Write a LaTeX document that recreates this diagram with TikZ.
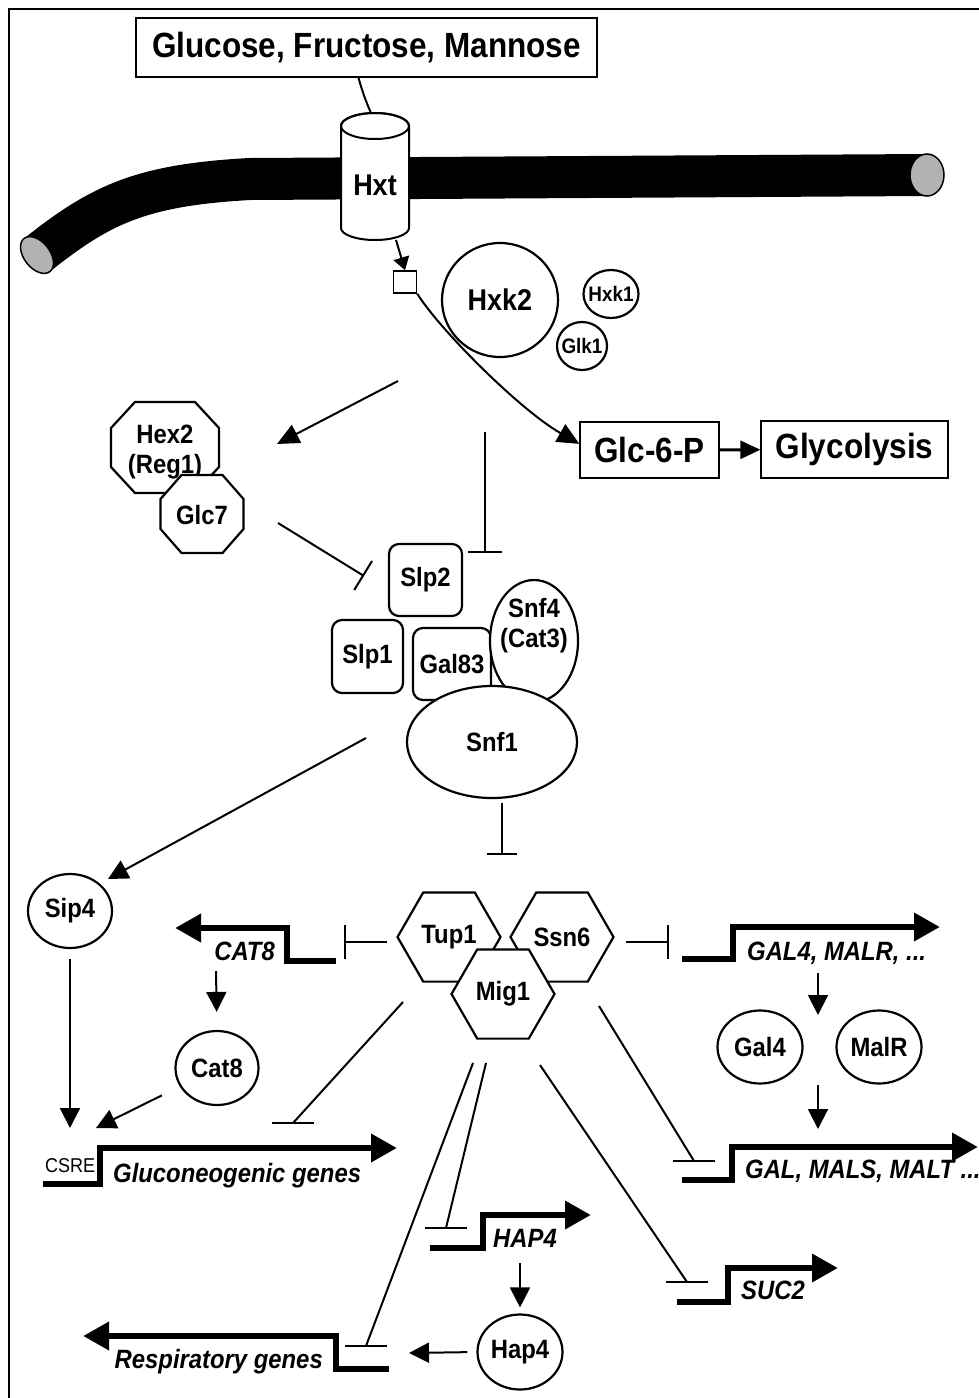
\documentclass[tikz,border=0pt]{standalone}
\usepackage{fontspec}
\setmainfont{Liberation Sans}[FakeStretch=0.9]
\usetikzlibrary{calc,arrows.meta,shapes.geometric}
\def\promoterbar(#1){\draw[line width=2pt] ($(#1)+(-21,0)$) -- ($(#1)+(21,0)$);}
\def\octagon(#1,#2)(#3,#4)(#5,#6){\draw[line width=2.2pt, fill=white] ({#1-#3+#5},{#2-#4}) -- ({#1+#3-#5},{#2-#4}) -- ({#1+#3},{#2-#4+#6}) -- ({#1+#3},{#2+#4-#6}) -- ({#1+#3-#5},{#2+#4}) -- ({#1-#3+#5},{#2+#4}) -- ({#1-#3},{#2+#4-#6}) -- ({#1-#3},{#2-#4+#6}) -- cycle;}
\tikzset{
  prot/.style={draw, ellipse, line width=2.2pt, fill=white, inner sep=0pt, font=\fontsize{26.5}{30}\selectfont\bfseries},
  subunit/.style={draw, rectangle, rounded corners=10pt, line width=2.2pt, fill=white, inner sep=0pt, font=\fontsize{26.5}{30}\selectfont\bfseries},
  octatext/.style={align=center, inner sep=0pt, font=\fontsize{26.5}{30}\selectfont\bfseries},
  hexa/.style={draw, regular polygon, regular polygon sides=6, minimum size=103pt, line width=2.2pt, fill=white, inner sep=0pt, font=\fontsize{26.5}{30}\selectfont\bfseries},
  sugarbox/.style={draw, rectangle, line width=1.3pt, fill=white, inner sep=0pt, font=\fontsize{35}{40}\selectfont\bfseries},
  genelabel/.style={inner sep=0pt, font=\fontsize{26.5}{30}\selectfont\bfseries\itshape},
  gene/.style={line width=6.5pt, -{Triangle[length=26pt,width=27pt]}},
  act/.style={line width=2pt, -{Triangle[length=20pt,width=20pt]}},
  inh/.style={line width=2pt, -{Bar[width=34pt]}},
}

\begin{document}
\begin{tikzpicture}[x=1pt, y=-1pt]
	%%%%% START %%%%%
	\useasboundingbox (0,0) rectangle (979,1398);
	\draw[line width=2pt] (9,1398) -- (9,9) -- (979,9);
	
	% membrane
	\draw[line width=42pt] (37,255) .. controls (100,205) and (140,185) .. (250,179) -- (927,175);
	\draw[line width=1.5pt, fill=black!30, rotate around={38:(37,255)}] (37,255) ellipse [x radius=13pt, y radius=21pt];
	\draw[line width=1.5pt, fill=black!30] (927,175) ellipse [x radius=17pt, y radius=21pt];
	
	% transporter
	\draw[line width=2pt, fill=white] (341,126) -- (341,228) arc[start angle=180, end angle=360, x radius=34pt, y radius=12pt] -- (409,126) arc[start angle=0, end angle=180, x radius=34pt, y radius=13pt] -- cycle;
	\draw[line width=2pt] (375,126) ellipse [x radius=34pt, y radius=13pt];
	\node[font=\fontsize{30}{34}\selectfont\bfseries] (hxt) at (375,185) {Hxt};
	\coordinate (hxttop) at (371,113);
	\coordinate (hxtbot) at (396,240);
	
	\node[sugarbox, minimum width=461pt, minimum height=59pt] (gluc) at (366.5,47.5) {Glucose, Fructose, Mannose};
	\draw[line width=2pt] ([xshift=-8pt]gluc.south) to[bend right=4] (hxttop);
	
	% hexokinases
	\node[prot, minimum width=116pt, minimum height=114pt, font=\fontsize{30}{34}\selectfont\bfseries] (hxk2) at (500,300) {Hxk2};
	\node[prot, minimum width=55pt, minimum height=48pt, font=\fontsize{21}{24}\selectfont\bfseries] (hxk1) at (611,294) {\makebox[0pt]{Hxk1}};
	\node[prot, minimum width=50pt, minimum height=48pt, font=\fontsize{21}{24}\selectfont\bfseries] (glk1) at (582,346) {\makebox[0pt]{Glk1}};
	
	\node[sugarbox, minimum width=139pt, minimum height=56pt] (g6p) at (649.5,450) {Glc-6-P};
	\node[sugarbox, minimum width=187pt, minimum height=57pt] (glyc) at (854.5,449.5) {Glycolysis};
	\draw[line width=3pt, -{Triangle[length=20pt,width=18pt]}] (g6p) -- (glyc);
	
	\node[draw, line width=1.5pt, fill=white, minimum width=23pt, minimum height=22pt, inner sep=0pt] (sq) at (405,282) {};
	\draw[line width=2pt, -{Triangle[length=13pt,width=16pt]}] (hxtbot) -- (sq.north);
	\draw[act, -{Triangle[length=22pt,width=20pt]}] (sq.south east) .. controls (440,330) and (520,410) .. (g6p.175);
	
	% Reg1 / Glc7
	\octagon(165,447.5)(54,45.5)(24,26)
	\node[octatext] (hex2) at (165,452) {Hex2\\(Reg1)};
	\octagon(202,514)(41.5,39)(21,24)
	\node[octatext] (glc7) at (202,515) {Glc7};
	
	% Snf1 kinase complex
	\node[subunit, minimum width=73pt, minimum height=72pt] (slp2) at (425.5,580) {Slp2};
	\node[subunit, minimum width=71pt, minimum height=73pt] (slp1) at (367.5,656.5) {Slp1};
	\node[subunit, minimum width=78pt, minimum height=72pt] (gal83) at (452,664) {Gal83};
	\node[prot, minimum width=88pt, minimum height=122pt] (snf4) at (534,641) {};
	\node[octatext] (snf4t) at (534,626) {Snf4\\(Cat3)};
	\node[prot, minimum width=170pt, minimum height=112pt] (snf1) at (492,742) {Snf1};
	
	\coordinate (siga) at (398,381);
	\coordinate (hexin) at (277,444);
	\draw[act, -{Triangle[length=22pt,width=20pt]}] (siga) -- (hexin);
	\coordinate (sigb) at (485,432);
	\coordinate (slpin) at (485,553);
	\draw[inh] (sigb) -- (slpin);
	\coordinate (glcout) at (278,523);
	\coordinate (slpw) at (364,576);
	\draw[inh] (glcout) -- (slpw);
	
	% repressor complex
	\node[hexa] (tup1) at (449,937) {Tup1};
	\node[hexa] (ssn6) at (562,937) {Ssn6};
	\node[hexa] (mig1) at (503,994) {Mig1};
	
	\node[prot, minimum width=84pt, minimum height=74pt] (sip4) at (70,911) {Sip4};
	\node[prot, minimum width=83pt, minimum height=74pt] (cat8) at (217,1068) {Cat8};
	\node[prot, minimum width=85pt, minimum height=73pt] (gal4) at (760,1047) {Gal4};
	\node[prot, minimum width=85pt, minimum height=73pt] (malr) at (879,1047) {MalR};
	\node[prot, minimum width=85pt, minimum height=75pt] (hap4) at (520,1352) {Hap4};
	
	\coordinate (snfout) at (366,738);
	\coordinate (sipin) at (108,879);
	\draw[act] (snfout) -- (sipin);
	\coordinate (snfbot) at (502,803);
	\coordinate (tupin) at (502,855);
	\draw[inh, -{Bar[width=30pt]}] (snfbot) -- (tupin);
	
	% genes
	\draw[gene] (336,961) -- (287,961) -- (287,928) -- (175,928);
	\draw[gene] (682,959) -- (733,959) -- (733,927) -- (940,927);
	\draw[gene] (43,1184) -- (100,1184) -- (100,1148) -- (397,1148);
	\draw[gene] (682,1180) -- (732,1180) -- (732,1147) -- (978,1147);
	\draw[gene] (430,1248) -- (483,1248) -- (483,1215) -- (591,1215);
	\draw[gene] (677,1302) -- (728,1302) -- (728,1268) -- (838,1268);
	\draw[gene] (389,1369) -- (336,1369) -- (336,1336) -- (83,1336);
	
	\node[genelabel, anchor=base east] (cat8g) at (275,960) {CAT8};
	\node[genelabel, anchor=base west] (gal4g) at (747,960) {GAL4, MALR, ...};
	\node[inner sep=0pt, anchor=base west, font=\fontsize{20}{24}\selectfont] (csre) at (45,1172) {CSRE};
	\node[genelabel, anchor=base west] (glug) at (113,1182) {Gluconeogenic genes};
	\node[genelabel, anchor=base west] (galg) at (745,1178) {GAL, MALS, MALT ...};
	\node[genelabel, anchor=base west] (hap4g) at (493,1247) {HAP4};
	\node[genelabel, anchor=base west] (suc2g) at (741,1299) {SUC2};
	\node[genelabel, anchor=base east] (resg) at (323,1368) {Respiratory genes};
	
	% repression of promoters
	\coordinate (tupw) at (387,942);
	\coordinate (cat8bar) at (344,942);
	\draw[inh] (tupw) -- (cat8bar);
	\coordinate (ssne) at (626,942);
	\coordinate (gal4bar) at (669,942);
	\draw[inh] (ssne) -- (gal4bar);
	
	\coordinate (ta) at (403,1002);
	\coordinate (glubar) at (293,1123);
	\draw[line width=2pt] (ta) -- (glubar); \promoterbar(glubar)
	\coordinate (ma) at (473,1063);
	\coordinate (resbar) at (366,1346);
	\draw[line width=2pt] (ma) -- (resbar); \promoterbar(resbar)
	\coordinate (mb) at (486,1063);
	\coordinate (hapbar) at (446,1228);
	\draw[line width=2pt] (mb) -- (hapbar); \promoterbar(hapbar)
	\coordinate (mc) at (540,1065);
	\coordinate (sucbar) at (687,1282);
	\draw[line width=2pt] (mc) -- (sucbar); \promoterbar(sucbar)
	\coordinate (sb) at (599,1006);
	\coordinate (galbar) at (694,1161);
	\draw[line width=2pt] (sb) -- (galbar); \promoterbar(galbar)
	
	% activation
	\coordinate (csrea) at (70,1128);
	\draw[act, shorten <=10pt] (sip4.south) -- (csrea);
	\coordinate (csreb) at (96,1128);
	\draw[act, shorten <=20pt] (cat8) -- (csreb);
	\coordinate (c8a) at (216,971);
	\draw[act, shorten >=18pt] (c8a) -- (cat8.north);
	\coordinate (ga) at (818,973);
	\coordinate (gb) at (818,1015);
	\draw[act] (ga) -- (gb);
	\coordinate (gc) at (818,1085);
	\coordinate (gd) at (818,1129);
	\draw[act] (gc) -- (gd);
	\coordinate (h4a) at (520,1263);
	\draw[act, shorten >=6pt] (h4a) -- (hap4.north);
	\coordinate (resin) at (409,1353);
	\draw[act, shorten <=9pt] (hap4.west) -- (resin);
	
	%%%%% END %%%%%
\end{tikzpicture}
\end{document}
